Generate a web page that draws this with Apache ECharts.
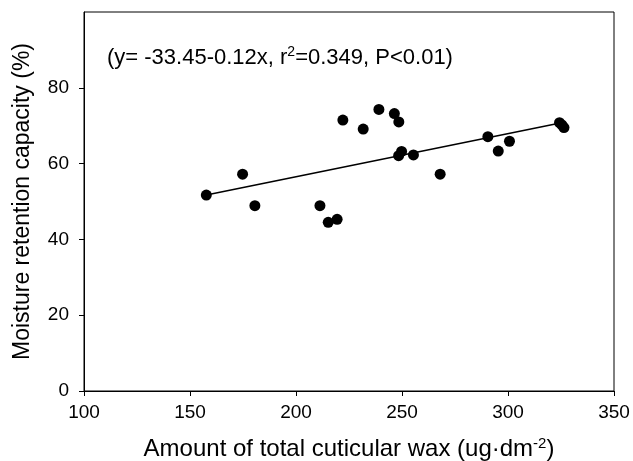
<!DOCTYPE html>
<html>
<head>
<meta charset="utf-8">
<script src="https://cdn.jsdelivr.net/npm/echarts@6/dist/echarts.min.js"></script>
<style>
  html, body { margin: 0; padding: 0; background: #fff; }
  #chart { width: 633px; height: 461px; }
</style>
</head>
<body>
<div id="chart"></div>
<script>
// wax amount (ug·dm-2) and moisture retention (%) for each sample
const waxAmount = [157.7, 174.8, 180.6, 211.3, 215.2, 219.4, 222.1, 231.7, 239.1, 246.4, 248.5,
  249.8, 248.4, 255.4, 268.0, 290.5, 295.4, 300.7, 324.3, 325.4, 326.4]
const moisture = [51.7, 57.2, 48.9, 48.9, 44.5, 45.3, 71.5, 69.1, 74.3, 73.2, 71.0,
  63.2, 62.1, 62.3, 57.2, 67.1, 63.3, 65.9, 70.8, 70.2, 69.5]
// regression line end points
const fitX = [157.7, 326.4]
const fitY = [51.7, 70.9]

const xTicks = [100, 150, 200, 250, 300, 350]
const yTicks = [0, 20, 40, 60, 80]

const font = 'Liberation Sans, Arial, sans-serif'

const chart = echarts.init(document.getElementById('chart'))
const option = {
  backgroundColor: '#fff',
  animation: false,
  grid: {
    left: 84,
    right: 19,
    top: 12,
    bottom: 70,
    outerBoundsMode: 'none',
    show: true,
    borderColor: '#000',
    borderWidth: 1
  },
  graphic: [
    {
      type: 'text',
      left: 107,
      top: 45,
      style: {
        text: '{t|(y= -33.45-0.12x, r}{s|2}{t|=0.349, P<0.01)}',
        rich: {
          t: { fontSize: 22, fontFamily: font, fill: '#000', verticalAlign: 'bottom' },
          s: { fontSize: 14, fontFamily: font, fill: '#000', verticalAlign: 'top', padding: [0, 0, 10, 0] }
        }
      }
    }
  ],
  xAxis: {
    type: 'value',
    min: xTicks[0],
    max: xTicks[xTicks.length - 1],
    interval: 50,
    name: '{t|Amount of total cuticular wax (ug·dm}{s|-2}{t|)}',
    nameLocation: 'middle',
    nameGap: 45,
    nameTextStyle: {
      rich: {
        t: { fontSize: 24, fontFamily: font, color: '#000' },
        s: { fontSize: 15, fontFamily: font, color: '#000', padding: [0, 0, 12, 0] }
      }
    },
    axisLine: { show: true, lineStyle: { color: '#000', width: 1 } },
    axisTick: { show: true, inside: false, length: 5, lineStyle: { color: '#000' } },
    axisLabel: { fontSize: 19, fontFamily: font, color: '#000', margin: 12 },
    splitLine: { show: false }
  },
  yAxis: {
    type: 'value',
    min: 0,
    max: 100,
    interval: 20,
    name: 'Moisture retention capacity (%)',
    nameLocation: 'middle',
    nameGap: 50,
    nameTextStyle: { fontSize: 23, fontFamily: font, color: '#000' },
    axisLine: { show: true, lineStyle: { color: '#000', width: 1 } },
    axisTick: { show: true, inside: false, length: 5, lineStyle: { color: '#000' }, customValues: yTicks },
    axisLabel: {
      fontSize: 19,
      fontFamily: font,
      color: '#000',
      margin: 15,
      customValues: yTicks
    },
    splitLine: { show: false }
  },
  series: [
    {
      type: 'line',
      data: fitX.map((x, i) => [x, fitY[i]]),
      symbol: 'none',
      lineStyle: { color: '#000', width: 1.5 },
      z: 2
    },
    {
      type: 'scatter',
      data: waxAmount.map((x, i) => [x, moisture[i]]),
      symbol: 'circle',
      symbolSize: 11,
      itemStyle: { color: '#000', opacity: 1 },
      z: 3
    }
  ]
}
chart.setOption(option)
</script>
</body>
</html>
